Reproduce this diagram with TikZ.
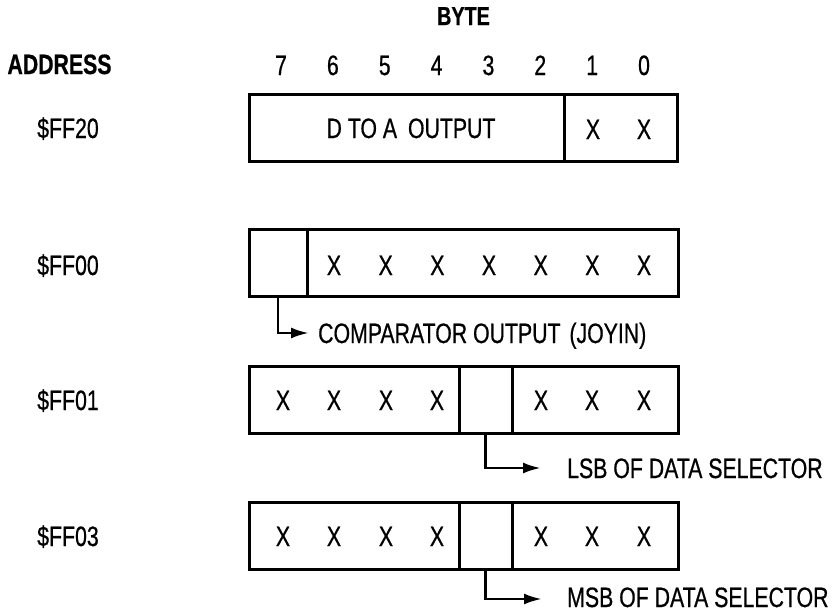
\documentclass[tikz,border=0pt]{standalone}
\usepackage{fontspec}
\setmainfont{Liberation Sans}[FakeStretch=0.76,FakeBold=0.6]
\usetikzlibrary{arrows.meta}
\begin{document}
\begin{tikzpicture}[x=1pt,y=-1pt,
  cell/.style={draw, line width=3pt, inner sep=0pt, minimum height=67pt},
  txt/.style={font=\fontsize{28}{30}\selectfont, inner sep=0pt, anchor=base},
  hd/.style={txt, font=\bfseries\fontsize{28}{30}\selectfont},
  lbl/.style={txt, anchor=base west},
  conn/.style={line width=2.8pt, -{Latex[length=18pt,width=11pt]}}]
\useasboundingbox (0,0) rectangle (836,614);

% headings
\node[txt, font=\bfseries\fontsize{26}{28}\selectfont] (byte) at (463.5,25) {BYTE};
\node[hd] (addr) at (59.5,74) {ADDRESS};
\foreach \b [count=\i from 0] in {7,6,5,4,3,2,1,0}
  \node[txt] (n\b) at ({281+51.86*\i},75) {\b};

% addresses
\node[txt] (ad1) at (68,138) {\$FF20};
\node[txt] (ad2) at (68,275) {\$FF00};
\node[txt] (ad3) at (68,410) {\$FF01};
\node[txt] (ad4) at (68,546) {\$FF03};

% register $FF20
\node[cell, minimum width=315pt] (a1) at (406.5,127.5) {};
\node[cell, minimum width=113pt] (a2) at (620.5,127.5) {};
\node[txt] (da) at (411,138) {D TO A\hspace{5pt} OUTPUT};
\node[txt] (ax1) at (593,139) {X};
\node[txt] (ax0) at (644,139) {X};

% register $FF00
\node[cell, minimum width=58pt] (b1) at (278,262.5) {};
\node[cell, minimum width=371pt] (b2) at (492.5,262.5) {};
\foreach \i in {0,...,6}
  \node[txt] (bx\i) at ({334+51.67*\i},275) {X};

% register $FF01
\node[cell, minimum width=209.5pt] (c1) at (354.25,399.5) {};
\node[cell, minimum width=53pt] (c2) at (485.5,399.5) {};
\node[cell, minimum width=166pt] (c3) at (595,399.5) {};
\foreach \x [count=\i] in {283,334,386,437,541,592,644}
  \node[txt] (cx\i) at (\x,410) {X};

% register $FF03
\node[cell, minimum width=209.5pt] (d1) at (354.25,536) {};
\node[cell, minimum width=53pt] (d2) at (485.5,536) {};
\node[cell, minimum width=166pt] (d3) at (595,536) {};
\foreach \x [count=\i] in {283,334,386,437,541,592,644}
  \node[txt] (dx\i) at (\x,546) {X};

% connectors
\coordinate (e1) at (309,333);
\draw[conn] (b1.south) |- (e1);
\node[lbl] (t1) at (318,343) {COMPARATOR OUTPUT\hspace{3pt} (JOYIN)};

\coordinate (e2) at (541,468);
\draw[conn] (c2.south) |- (e2);
\node[lbl] (t2) at (567,478) {LSB OF DATA SELECTOR};

\coordinate (e3) at (542,599);
\draw[conn] (d2.south) |- (e3);
\node[lbl] (t3) at (567,607) {MSB OF DATA SELECTOR};
\end{tikzpicture}
\end{document}
